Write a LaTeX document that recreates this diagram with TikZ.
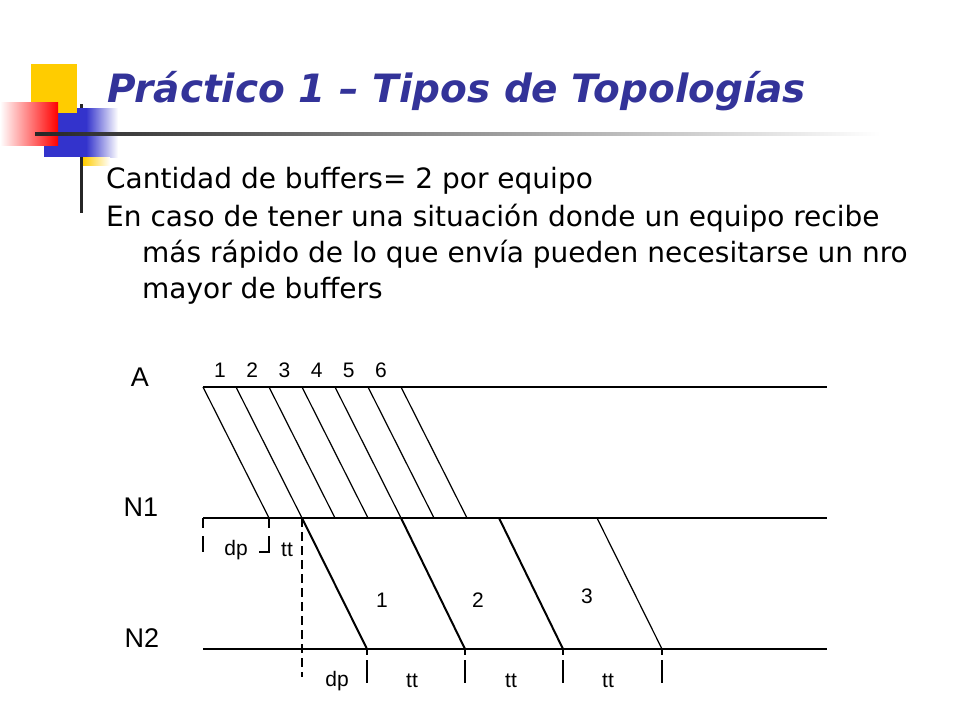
\documentclass[tikz,border=0pt]{standalone}
\usepackage{fontspec}
\usetikzlibrary{positioning}
\setmainfont{DejaVu Sans}
\newfontfamily\titlefont{DejaVu Sans}
\newfontfamily\diagfont{Liberation Sans}
\definecolor{titleblue}{RGB}{51,51,153}
\definecolor{boxblue}{RGB}{51,51,204}
\definecolor{boxyellow}{RGB}{255,204,0}
\tikzset{
	>=latex,
}

\begin{document}
\begin{tikzpicture}[x=1pt,y=-1pt,
		timeline/.style={line width=2.6pt},
		packet/.style={line width=1.2pt},
		bigpacket/.style={line width=2pt},
		dimtick/.style={line width=1.6pt,dash pattern=on 10pt off 8pt on 16pt off 20pt},
		lbl/.style={font=\diagfont\fontsize{27}{27}\selectfont,inner sep=0pt},
		num/.style={font=\diagfont\fontsize{21}{21}\selectfont,inner sep=0pt},
		body/.style={anchor=base west,inner sep=0pt,font=\fontsize{28}{28}\selectfont},
	]
	\useasboundingbox[fill=white] (0,0) rectangle (960,720);
	% corner decoration
	\fill[black!85] (80,104) rectangle (82.5,213);
	\fill[boxblue] (44,108) rectangle (86,157);
	\shade[left color=boxblue,right color=white] (86,108) rectangle (118,157);
	\shade[left color=boxyellow,right color=white] (83,157) rectangle (110,165);
	\fill[boxyellow] (31,64) rectangle (77,113);
	\shade[left color=white,right color=red] (0,102) rectangle (58,145);
	\shade[left color=black!85,right color=white] (35,132.5) rectangle (880,135.5);
	% title and text
	\node(title)[anchor=base west,inner sep=0pt,text=titleblue,
		font=\titlefont\bfseries\itshape\fontsize{39}{39}\selectfont]
		at (107,102) {Práctico 1 – Tipos de Topologías};
	\node(txt1)[body] at (106,188) {Cantidad de buffers= 2 por equipo};
	\node(txt2)[body] at (106,226) {En caso de tener una situación donde un equipo recibe};
	\node(txt3)[body] at (142,262) {más rápido de lo que envía pueden necesitarse un nro};
	\node(txt4)[body] at (142,298) {mayor de buffers};
	% time lines
	\coordinate (A-start) at (203,387);  \coordinate (A-end) at (827,387);
	\coordinate (N1-start) at (203,518); \coordinate (N1-end) at (827,518);
	\coordinate (N2-start) at (203,649); \coordinate (N2-end) at (827,649);
	\node(labA)[lbl] at (140,377) {A};
	\node(labN1)[lbl] at (141,507) {N1};
	\node(labN2)[lbl] at (142,638) {N2};
	\foreach \i/\t in {0/1,1/2,2/3,3/4,4/5,5/6}
		\node(pk\t)[num] at (220+32.2*\i,370) {\t};
	\foreach \i in {0,...,6}{
		\coordinate (sA\i) at (203+33*\i,387);
		\coordinate (eA\i) at (269+33*\i,518);
		\draw[packet] (sA\i) -- (eA\i);
	}
	\coordinate (s1) at (302,518); \coordinate (e1) at (367,649);
	\coordinate (s2) at (401,518); \coordinate (e2) at (465,649);
	\coordinate (s3) at (499,518); \coordinate (e3) at (563,649);
	\coordinate (s4) at (597,518); \coordinate (e4) at (662,649);
	\draw[bigpacket] (s1) -- (e1);
	\draw[bigpacket] (s2) -- (e2);
	\draw[bigpacket] (s3) -- (e3);
	\draw[packet] (s4) -- (e4);
	\draw[timeline] (A-start) -- (A-end);
	\draw[timeline] (N1-start) -- (N1-end);
	\draw[timeline] (N2-start) -- (N2-end);
	% delays
	\draw[dimtick] (N1-start) -- ++(0,34);
	\draw[line width=1.6pt,dash pattern=on 10pt off 8pt on 26pt off 20pt]
		(eA0) -- ++(0,34) -- ++(-10,0);
	\draw[line width=1.8pt,dash pattern=on 9pt off 5pt] (s1) -- (302,677);
	\foreach \k in {1,...,4}
		\draw[line width=1.6pt,dash pattern=on 6pt off 5pt on 23pt off 10pt] (e\k) -- ++(0,34);
	\node(dp1)[num] at (236,550) {dp};
	\node(tt1)[num] at (287,550) {tt};
	\node(buf1)[num] at (382,600) {1};
	\node(buf2)[num] at (478,600) {2};
	\node(buf3)[num] at (587,596) {3};
	\node(dp2)[num] at (337,681) {dp};
	\node(tt2)[num] at (412,681) {tt};
	\node(tt3)[num] at (511,681) {tt};
	\node(tt4)[num] at (608,681) {tt};
\end{tikzpicture}
\end{document}
